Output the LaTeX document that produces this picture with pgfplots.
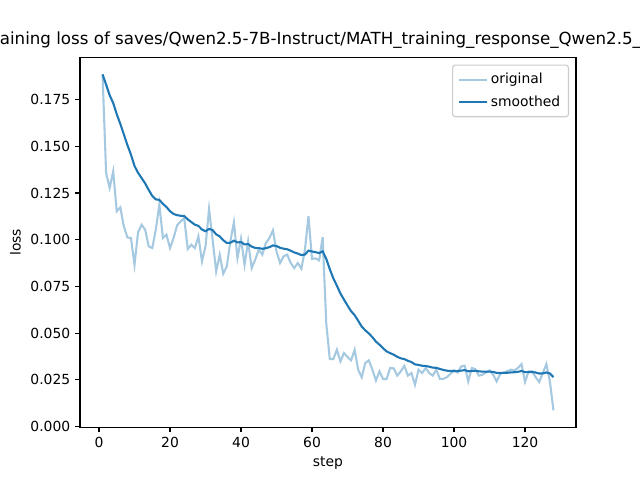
\documentclass[border=0pt]{standalone}
\usepackage{fontspec}
\setmainfont{DejaVu Sans}
\usepackage{pgfplots}
\pgfplotsset{compat=1.18}
\usepackage{pgfplotstable}
\definecolor{tabblue}{HTML}{1F77B4}
\definecolor{lightblue}{HTML}{A5C9E1}
\pgfplotstableread{
step orig smooth
1 0.1885 0.1885
2 0.1357 0.18306
3 0.1277 0.17736
4 0.1366 0.17316
5 0.1152 0.16719
6 0.1173 0.16205
7 0.1071 0.15639
8 0.1012 0.15069
9 0.1009 0.14556
10 0.0866 0.13949
11 0.1039 0.13582
12 0.1080 0.13295
13 0.1054 0.13012
14 0.0964 0.12665
15 0.0955 0.12345
16 0.1054 0.12159
17 0.1188 0.12131
18 0.1009 0.11921
19 0.1027 0.11751
20 0.0955 0.11525
21 0.1009 0.11377
22 0.1077 0.11314
23 0.1098 0.11280
24 0.1116 0.11267
25 0.0950 0.11086
26 0.0973 0.10946
27 0.0955 0.10803
28 0.1018 0.10739
29 0.0884 0.10544
30 0.0964 0.10451
31 0.1164 0.10574
32 0.1000 0.10515
33 0.0830 0.10287
34 0.0920 0.10175
35 0.0818 0.09970
36 0.0857 0.09826
37 0.0991 0.09835
38 0.1093 0.09948
39 0.0902 0.09852
40 0.1005 0.09872
41 0.0866 0.09747
42 0.0991 0.09764
43 0.0848 0.09631
44 0.0893 0.09559
45 0.0946 0.09548
46 0.0920 0.09513
47 0.0982 0.09544
48 0.1009 0.09600
49 0.1050 0.09693
50 0.0937 0.09660
51 0.0875 0.09566
52 0.0911 0.09519
53 0.0920 0.09487
54 0.0875 0.09411
55 0.0848 0.09315
56 0.0875 0.09257
57 0.0845 0.09174
58 0.0946 0.09203
59 0.1125 0.09414
60 0.0897 0.09368
61 0.0900 0.09330
62 0.0889 0.09285
63 0.1014 0.09373
64 0.0554 0.08979
65 0.0361 0.08426
66 0.0361 0.07930
67 0.0411 0.07536
68 0.0348 0.07118
69 0.0393 0.06790
70 0.0372 0.06474
71 0.0354 0.06172
72 0.0411 0.05959
73 0.0304 0.05658
74 0.0263 0.05346
75 0.0340 0.05145
76 0.0354 0.04980
77 0.0304 0.04780
78 0.0246 0.04541
79 0.0295 0.04377
80 0.0254 0.04188
81 0.0254 0.04019
82 0.0313 0.03927
83 0.0311 0.03843
84 0.0272 0.03727
85 0.0295 0.03647
86 0.0325 0.03606
87 0.0272 0.03515
88 0.0286 0.03448
89 0.0223 0.03323
90 0.0304 0.03294
91 0.0286 0.03250
92 0.0313 0.03237
93 0.0286 0.03199
94 0.0272 0.03150
95 0.0304 0.03139
96 0.0255 0.03079
97 0.0255 0.03025
98 0.0264 0.02985
99 0.0282 0.02968
100 0.0300 0.02971
101 0.0288 0.02962
102 0.0321 0.02988
103 0.0325 0.03015
104 0.0241 0.02952
105 0.0313 0.02970
106 0.0307 0.02980
107 0.0272 0.02953
108 0.0277 0.02934
109 0.0289 0.02930
110 0.0300 0.02937
111 0.0277 0.02920
112 0.0241 0.02867
113 0.0282 0.02862
114 0.0289 0.02865
115 0.0296 0.02875
116 0.0304 0.02892
117 0.0300 0.02903
118 0.0313 0.02926
119 0.0334 0.02969
120 0.0238 0.02908
121 0.0295 0.02912
122 0.0295 0.02916
123 0.0263 0.02887
124 0.0238 0.02835
125 0.0286 0.02838
126 0.0334 0.02890
127 0.0241 0.02840
128 0.0086 0.02636
}\losstable
\begin{document}
\begin{tikzpicture}
\path[use as bounding box] (-57.6pt,-38.016pt) rectangle (403.2pt,307.58pt);
\begin{axis}[
  at={(0pt,0pt)}, anchor=south west,
  scale only axis, width=357.12pt, height=266.11pt,
  xmin=-5.35, xmax=134.35, ymin=-0.0004, ymax=0.1975,
  xtick={0,20,40,60,80,100,120},
  ytick={0,0.025,0.05,0.075,0.1,0.125,0.15,0.175},
  scaled y ticks=false,
  yticklabel style={/pgf/number format/.cd, fixed, fixed zerofill, precision=3},
  /pgf/number format/assume math mode=true,
  tick pos=left, tick align=outside,
  major tick length=3.5pt,
  every tick/.style={black, line width=0.8pt},
  axis line style={line width=0.8pt},
  ticklabel style={font=\fontsize{10}{12}\selectfont},
  label style={font=\fontsize{10}{12}\selectfont},
  xlabel={step}, ylabel={loss},
  legend style={at={(1,1)}, anchor=north east, xshift=-5pt, yshift=-5pt,
    draw=black!20, rounded corners=2pt, line width=0.8pt,
    font=\fontsize{10}{12}\selectfont, inner xsep=4pt, inner ysep=4pt, row sep=3pt},
  legend cell align=left,
  legend image code/.code={\draw[#1] (0pt,0pt) -- (20pt,0pt);},
]
\addplot[lightblue, line width=1.5pt] table[x=step, y=orig] {\losstable};
\addlegendentry{original}
\addplot[tabblue, line width=1.5pt] table[x=step, y=smooth] {\losstable};
\addlegendentry{smoothed}
\end{axis}
\node[anchor=base west, font=\fontsize{12}{14.4}\selectfont, inner sep=0pt] at (-68.4pt,275.18pt)
  {Training loss of saves/Qwen2.5-7B-Instruct/MATH\_training\_response\_Qwen2.5\_7B};
\end{tikzpicture}
\end{document}
